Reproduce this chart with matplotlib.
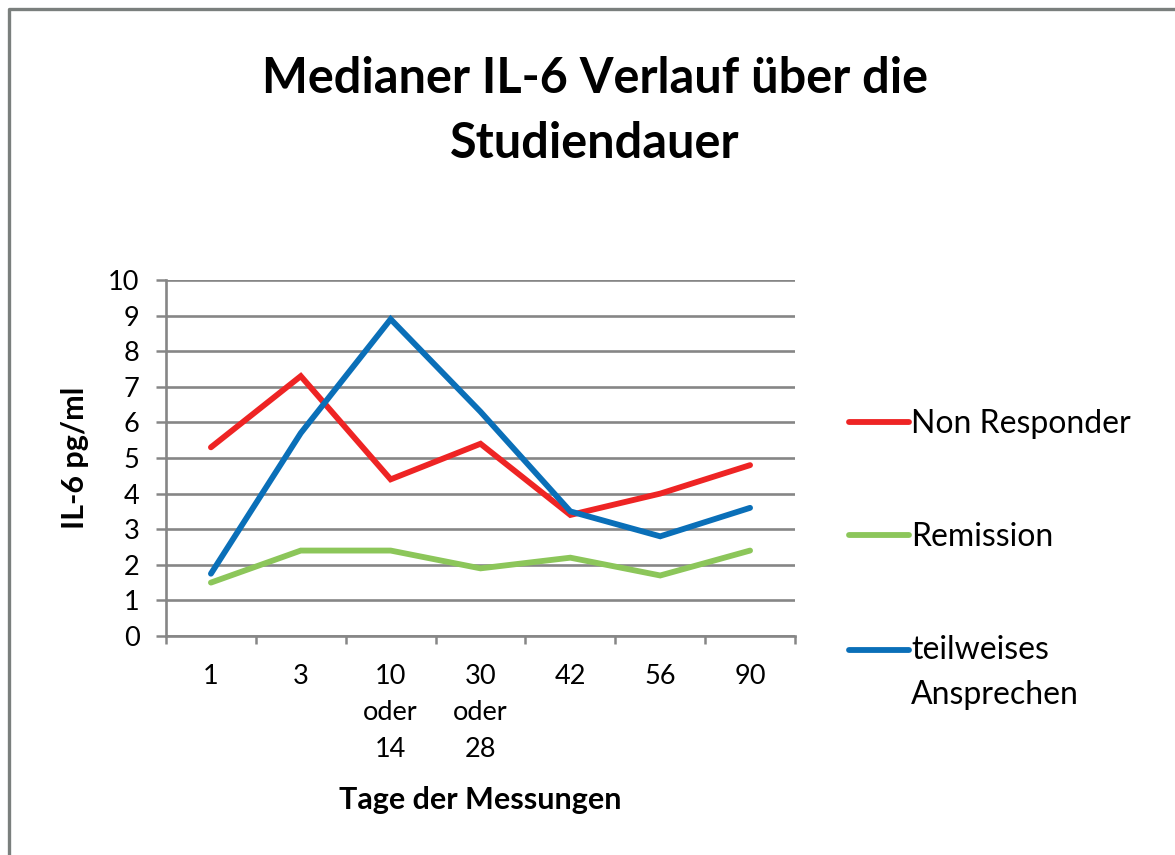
import matplotlib
matplotlib.use("Agg")
import matplotlib.pyplot as plt
from matplotlib.lines import Line2D
from matplotlib.legend_handler import HandlerLine2D
import numpy as np

plt.rcParams['font.family'] = ['Lato', 'DejaVu Sans']

# Data
tage = ['1', '3', '10\noder\n14', '30\noder\n28', '42', '56', '90']
non_responder = [5.3, 7.3, 4.4, 5.4, 3.4, 4.0, 4.8]
remission = [1.5, 2.4, 2.4, 1.9, 2.2, 1.7, 2.4]
teilweise = [1.75, 5.7, 8.9, 6.3, 3.5, 2.8, 3.6]

serien = ['Non Responder', 'Remission', 'teilweises\nAnsprechen']
farben = ['#ee2424', '#8cc65a', '#0a6fb8']

grau = '#868686'

fig = plt.figure(figsize=(11.75, 8.55), dpi=100)
ax = fig.add_axes([166 / 1175, 1 - 636 / 855, (795 - 166) / 1175, (636 - 280) / 855])

x = np.arange(len(tage))
for werte, name, farbe in zip([non_responder, remission, teilweise], serien, farben):
    ax.plot(x, werte, color=farbe, linewidth=4.2, label=name, solid_capstyle='round',
            solid_joinstyle='miter')

ax.set_xlim(-0.5, len(tage) - 0.5)
ax.set_ylim(0, 10)
ax.set_yticks(range(0, 11))
ax.set_xticks(x)
ax.set_xticklabels(tage, fontsize=19.5, linespacing=1.57)
ax.set_xticks(np.arange(-0.5, len(tage)), minor=True)
ax.tick_params(axis='x', which='major', length=0, pad=20)
ax.tick_params(axis='x', which='minor', length=6, width=1.8, color=grau, direction='out')
ax.tick_params(axis='y', length=7, width=1.8, color=grau, labelsize=19.5, pad=12)

ax.grid(axis='y', color=grau, linewidth=1.9)
ax.set_axisbelow(True)
for s in ['top', 'right']:
    ax.spines[s].set_visible(False)
for s in ['left', 'bottom']:
    ax.spines[s].set_color(grau)
    ax.spines[s].set_linewidth(1.9)

ax.set_ylabel('IL-6 pg/ml', fontsize=22, fontweight='bold', va='center')
ax.yaxis.set_label_coords((75 - 166) / 629, 0.5)
ax.set_xlabel('Tage der Messungen', fontsize=22, fontweight='bold', va='center')
ax.xaxis.set_label_coords(0.5, (636 - 800) / 356)

fig.text(0.506, 1 - 111 / 855, 'Medianer IL-6 Verlauf über die\nStudiendauer',
         ha='center', va='center', fontsize=35, fontweight='bold', linespacing=1.56)


class OberesHandle(HandlerLine2D):
    def __init__(self, dy=0, **kw):
        super().__init__(**kw)
        self.dy = dy

    def create_artists(self, legend, orig_handle, xdescent, ydescent, width, height,
                       fontsize, trans):
        arts = super().create_artists(legend, orig_handle, xdescent, ydescent, width,
                                      height, fontsize, trans)
        for a in arts:
            a.set_ydata(np.asarray(a.get_ydata()) + self.dy)
        return arts


handles, labels = ax.get_legend_handles_labels()
leg = fig.legend(handles, labels, loc='upper left', bbox_to_anchor=(836 / 1175, 1 - 396 / 855),
                 frameon=False, fontsize=23, handlelength=1.9, handletextpad=0.05,
                 labelspacing=2.6, borderaxespad=0,
                 handler_map={handles[2]: OberesHandle(dy=17)})
for t in leg.get_texts():
    t.set_linespacing(1.62)

# Rahmen
fig.add_artist(Line2D([8.5 / 1175, 8.5 / 1175, 1], [0, 1 - 9.5 / 855, 1 - 9.5 / 855],
                      transform=fig.transFigure, color='#7a7f7d', linewidth=2.4))

fig.savefig('out.png', dpi=100)
